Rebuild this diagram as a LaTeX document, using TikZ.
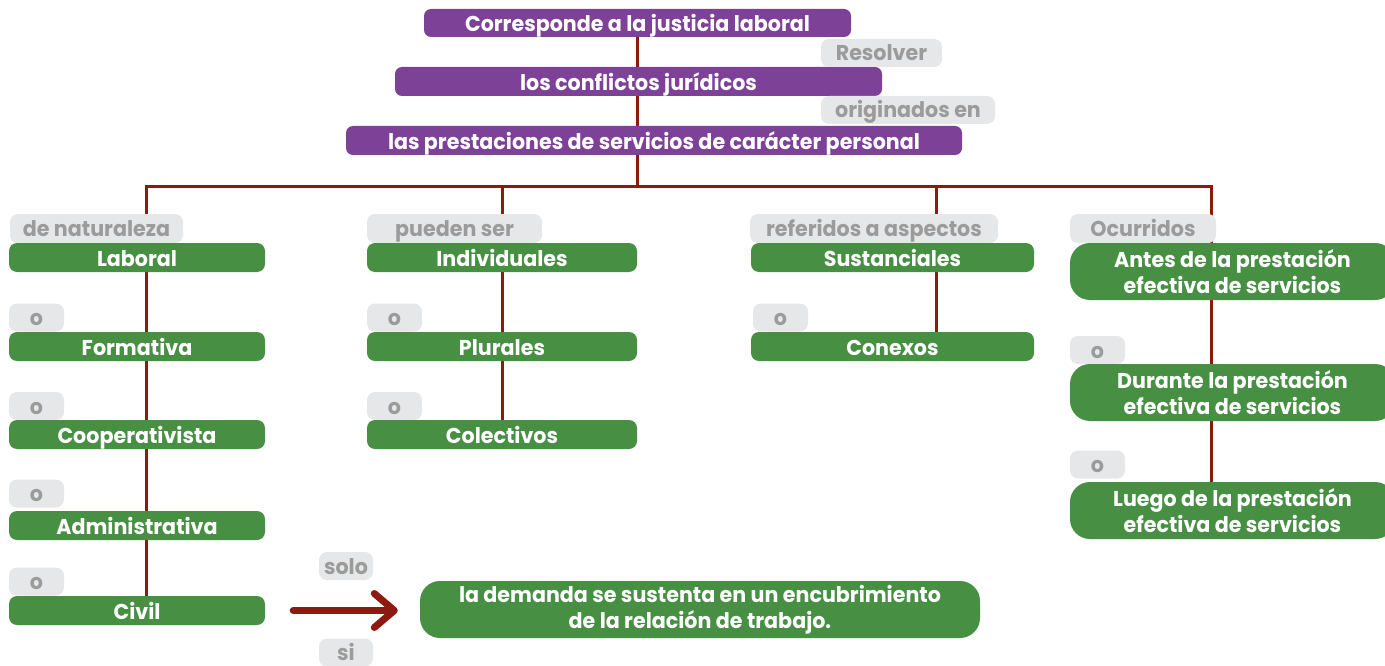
\documentclass[tikz,border=0pt]{standalone}
\usepackage{fontspec}
\setmainfont{Poppins}[FakeStretch=0.96]
\usetikzlibrary{arrows.meta,backgrounds}
\definecolor{pcol}{HTML}{7D4298}
\definecolor{gcol}{HTML}{478F43}
\definecolor{lgray}{HTML}{E6E7E8}
\definecolor{tgray}{HTML}{9B9B9B}
\definecolor{lcol}{HTML}{8C1A11}
\tikzset{
  base/.style={rectangle, inner sep=0pt, font=\bfseries\fontsize{21.5}{26}\selectfont, align=center},
  one/.style={text height=18pt, text depth=0pt},
  pbox/.style={base, one, fill=pcol, text=white, rounded corners=7pt},
  gbox/.style={base, one, fill=gcol, text=white, rounded corners=8pt},
  gbig/.style={base, fill=gcol, text=white, rounded corners=20pt},
  lab/.style={base, fill=lgray, text=tgray, rounded corners=8pt, text height=16pt, text depth=0pt},
  link/.style={draw=lcol, line width=3pt},
  bigarrow/.style={draw=lcol, line width=7pt, line cap=round, -{Straight Barb[length=20pt,width=34pt,round]}}
}
\begin{document}
\begin{tikzpicture}[x=1pt,y=-1pt]
\useasboundingbox (0,0) rectangle (1385,666);
% top purple
\node[pbox, minimum width=427pt, minimum height=28pt] (t1) at (637.5,23) {Corresponde a la justicia laboral};
\node[pbox, minimum width=487pt, minimum height=29pt] (t2) at (638.5,81.5) {los conflictos jurídicos};
\node[pbox, minimum width=616pt, minimum height=29pt] (t3) at (654,140.5) {las prestaciones de servicios de carácter personal};
\node[lab, minimum width=121pt, minimum height=28pt] (lres) at (881.5,53) {Resolver};
\node[lab, minimum width=174pt, minimum height=28pt] (lorig) at (908,110) {originados en};
% column 1
\node[lab, minimum width=173pt, minimum height=29pt] (l1) at (96.5,228.5) {de naturaleza};
\node[gbox, minimum width=256pt, minimum height=29pt] (lab1) at (137,257.5) {Laboral};
\node[lab, minimum width=55pt, minimum height=28pt] (o11) at (36.5,317.5) {o};
\node[gbox, minimum width=256pt, minimum height=29pt] (form) at (137,346.5) {Formativa};
\node[lab, minimum width=55pt, minimum height=28pt] (o12) at (36.5,406) {o};
\node[gbox, minimum width=256pt, minimum height=29pt] (coop) at (137,434.5) {Cooperativista};
\node[lab, minimum width=55pt, minimum height=28pt] (o13) at (36.5,493.5) {o};
\node[gbox, minimum width=256pt, minimum height=29pt] (admin) at (137,525.5) {Administrativa};
\node[lab, minimum width=55pt, minimum height=28pt] (o14) at (36.5,581.5) {o};
\node[gbox, minimum width=256pt, minimum height=29pt] (civil) at (137,610.5) {Civil};
% column 2
\node[lab, minimum width=175pt, minimum height=29pt] (l2) at (454.5,228.5) {pueden ser};
\node[gbox, minimum width=270pt, minimum height=29pt] (ind) at (502,257.5) {Individuales};
\node[lab, minimum width=55pt, minimum height=28pt] (o21) at (394.5,317.5) {o};
\node[gbox, minimum width=270pt, minimum height=29pt] (plu) at (502,346.5) {Plurales};
\node[lab, minimum width=55pt, minimum height=28pt] (o22) at (394.5,406) {o};
\node[gbox, minimum width=270pt, minimum height=29pt] (colec) at (502,434.5) {Colectivos};
% column 3
\node[lab, minimum width=248pt, minimum height=29pt] (l3) at (874,228.5) {referidos a aspectos};
\node[gbox, minimum width=283pt, minimum height=29pt] (sus) at (892.5,257.5) {Sustanciales};
\node[lab, minimum width=55pt, minimum height=28pt] (o31) at (780.5,317.5) {o};
\node[gbox, minimum width=283pt, minimum height=29pt] (con) at (892.5,346.5) {Conexos};
% column 4
\node[lab, minimum width=146pt, minimum height=29pt] (l4) at (1143,228.5) {Ocurridos};
\node[gbig, minimum width=325pt, minimum height=57pt] (antes) at (1232.5,271.5) {Antes de la prestación\\efectiva de servicios};
\node[lab, minimum width=55pt, minimum height=28pt] (o41) at (1097.5,350) {o};
\node[gbig, minimum width=325pt, minimum height=57pt] (dur) at (1232.5,392.5) {Durante la prestación\\efectiva de servicios};
\node[lab, minimum width=55pt, minimum height=28pt] (o42) at (1097.5,464.5) {o};
\node[gbig, minimum width=325pt, minimum height=57pt] (luego) at (1232.5,510.5) {Luego de la prestación\\efectiva de servicios};
% bottom
\node[lab, minimum width=54pt, minimum height=28pt] (solo) at (346,566) {solo};
\node[lab, minimum width=54pt, minimum height=28pt] (si) at (346,652.5) {si};
\node[gbig, minimum width=560pt, minimum height=57pt] (dem) at (700,609.5) {la demanda se sustenta en un encubrimiento\\de la relación de trabajo.};
% coordinates of the bar
\coordinate (b1) at (146,187);
\coordinate (b2) at (502,187);
\coordinate (b3) at (936,187);
\coordinate (b4) at (1211,187);
\begin{scope}[on background layer]
\draw[link] (t1.center) -- (t1.center |- b1);
\draw[link] (b1 |- civil.north) -- (b1) -- (b4) -- (b4 |- luego.north);
\draw[link] (b2) -- (b2 |- colec.north);
\draw[link] (b3) -- (b3 |- con.north);
\end{scope}
\draw[bigarrow, shorten <=28pt, shorten >=22pt] (civil.east) -- (civil.east -| dem.west);
\end{tikzpicture}
\end{document}
